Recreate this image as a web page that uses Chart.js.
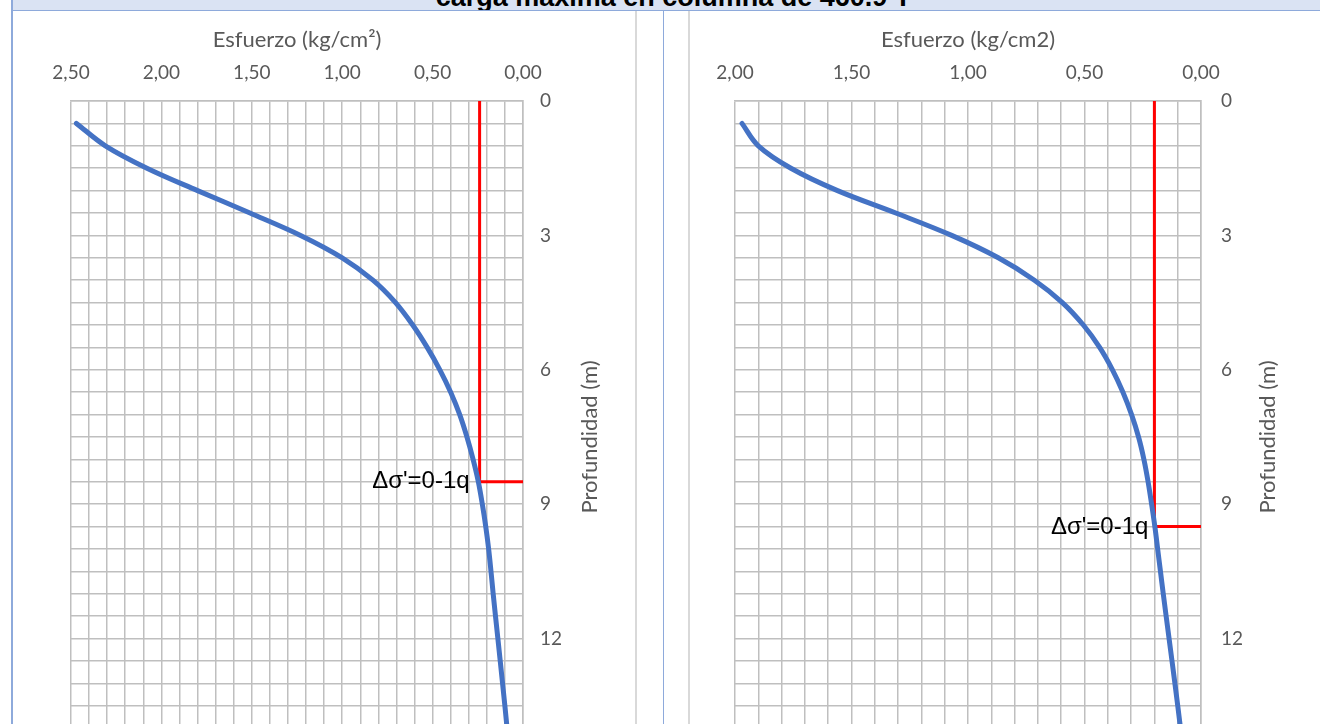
<!DOCTYPE html>
<html>
<head>
<meta charset="utf-8">
<script src="https://cdn.jsdelivr.net/npm/chart.js@4/dist/chart.umd.min.js"></script>
<style>
  html, body { margin: 0; padding: 0; background: #fff; overflow: hidden; width: 1320px; height: 724px; }
  .abs { position: absolute; }
  #band { left: 13px; right: 0; top: 0; height: 10px; background: #dae3f3; overflow: hidden; }
  #band div { position: absolute; left: 0; width: 1321px; top: -19px; text-align: center;
              font: bold 27px 'Liberation Sans', Arial, sans-serif; line-height: 32px; color: #000; white-space: nowrap; }
</style>
</head>
<body>
<div class="abs" id="band"><div>carga máxima en columna de 460.9 T</div></div>
<div class="abs" style="left:13px;right:0;top:10px;height:1px;background:#8eaadb"></div>
<div class="abs" style="left:11px;top:0;width:2px;height:724px;background:#8eaadb"></div>
<div class="abs" style="left:635px;top:11px;width:2px;height:713px;background:#d9d9d9"></div>
<div class="abs" style="left:663px;top:11px;width:1px;height:713px;background:#8eaadb"></div>
<div class="abs" style="left:688px;top:11px;width:2px;height:713px;background:#d9d9d9"></div>
<div class="abs" style="left:13px;top:11px;width:622px;height:800px"><canvas id="c1" width="622" height="800"></canvas></div>
<div class="abs" style="left:690px;top:11px;width:626px;height:800px"><canvas id="c2" width="626" height="800"></canvas></div>

<script>
// Profundidad (m) for each point of the stress curves
const depths = [0.5, 1, 1.5, 2, 2.5, 3, 3.5, 4, 4.5, 5, 5.5, 6, 6.5, 7, 7.5, 8, 8.5, 9, 9.5, 10, 10.5, 11, 12, 13, 14, 15];

// Esfuerzo (kg/cm²) – left diagram
const stressA = [2.47, 2.31, 2.08, 1.80, 1.51, 1.23, 1.00, 0.83, 0.705, 0.61, 0.53, 0.46, 0.40, 0.35, 0.31, 0.276, 0.247, 0.225, 0.206, 0.19, 0.177, 0.165, 0.139, 0.113, 0.088, 0.066];
// Esfuerzo (kg/cm2) – right diagram
const stressB = [1.97, 1.90, 1.76, 1.56, 1.31, 1.07, 0.87, 0.715, 0.595, 0.505, 0.435, 0.38, 0.335, 0.298, 0.268, 0.245, 0.227, 0.212, 0.198, 0.186, 0.174, 0.162, 0.137, 0.112, 0.088, 0.066];

// Δσ' = 0.1q limit lines: stress value and the depth where it is reached
const limitA = { stress: 0.24, depth: 8.5 };
const limitB = { stress: 0.20, depth: 9.5 };

// Axis ranges and labelled ticks
const xMaxA = 2.5, xMaxB = 2.0;
const depthMax = 15;
const depthLabels = [0, 3, 6, 9, 12, 15];
const limitText = "Δσ'=0-1q";

const TICK_COLOR = '#595959';
const GRID_COLOR = '#bfbfbf';
const UI_FONT = "Lato, 'Noto Sans', sans-serif";

const fmt = v => v.toFixed(2).replace('.', ',');

// Label next to the corner of the red limit line
const limitLabel = {
  id: 'limitLabel',
  afterDatasetsDraw(chart, args, opts) {
    const { ctx, scales } = chart;
    const px = scales.x.getPixelForValue(opts.stress);
    const py = scales.y.getPixelForValue(opts.depth);
    ctx.save();
    ctx.font = "24px 'Liberation Sans', Arial, sans-serif";
    ctx.fillStyle = '#000';
    ctx.textAlign = 'right';
    ctx.textBaseline = 'middle';
    ctx.fillText(opts.text, px - opts.gap, py + opts.dy);
    ctx.restore();
  }
};

// Vertical axis title read bottom-to-top on the right side
const depthTitle = {
  id: 'depthTitle',
  afterDraw(chart, args, opts) {
    const { ctx, chartArea } = chart;
    ctx.save();
    ctx.translate(chartArea.right + opts.offset, (chartArea.top + chartArea.bottom) / 2);
    ctx.rotate(-Math.PI / 2);
    ctx.font = '22px ' + UI_FONT;
    ctx.fillStyle = TICK_COLOR;
    ctx.textAlign = 'center';
    ctx.textBaseline = 'middle';
    ctx.fillText(opts.text, 0, 0);
    ctx.restore();
  }
};

function makeChart(id, stress, limit, xMax, xTitle, cfg) {
  const curve = depths.map((d, i) => ({ x: stress[i], y: d }));
  const limitLine = [
    { x: limit.stress, y: 0 },
    { x: limit.stress, y: limit.depth },
    { x: 0, y: limit.depth }
  ];
  return new Chart(document.getElementById(id), {
    type: 'scatter',
    data: {
      datasets: [
        { data: curve, showLine: true, borderColor: '#4472c4', borderWidth: 5, pointRadius: 0,
          tension: 0.35, borderCapStyle: 'round', borderJoinStyle: 'round' },
        { data: limitLine, showLine: true, borderColor: '#ff0000', borderWidth: 3, pointRadius: 0, tension: 0 }
      ]
    },
    options: {
      responsive: false,
      animation: false,
      events: [],
      layout: { padding: { left: cfg.padLeft, right: 0, top: 0, bottom: cfg.padBottom } },
      plugins: {
        legend: { display: false },
        tooltip: { enabled: false },
        limitLabel: { stress: limit.stress, depth: limit.depth, text: limitText, gap: cfg.labelGap, dy: cfg.labelDy },
        depthTitle: { text: 'Profundidad (m)', offset: 67 }
      },
      scales: {
        x: {
          type: 'linear', position: 'top', reverse: true, min: 0, max: xMax,
          afterFit(scale) { scale.height = 90; },
          grid: { color: GRID_COLOR, lineWidth: 1.5, drawTicks: false },
          border: { display: true, color: GRID_COLOR, width: 1.5 },
          ticks: {
            stepSize: 0.1, autoSkip: false, maxRotation: 0, padding: 17,
            color: TICK_COLOR, font: { family: UI_FONT, size: 19 },
            callback: v => (Math.round(v * 10) % 5 === 0 ? fmt(v) : '')
          },
          title: { display: true, text: xTitle, color: TICK_COLOR,
                   font: { family: UI_FONT, size: 22 }, padding: { top: 16, bottom: 0 } }
        },
        y: {
          type: 'linear', position: 'right', reverse: true, min: 0, max: depthMax,
          afterFit(scale) { scale.width = cfg.yWidth; },
          grid: { color: GRID_COLOR, lineWidth: 1.5, drawTicks: false },
          border: { display: true, color: GRID_COLOR, width: 1.5 },
          ticks: {
            stepSize: 0.5, autoSkip: false, padding: cfg.yPad,
            color: TICK_COLOR, font: { family: UI_FONT, size: 19 },
            callback: v => (depthLabels.includes(v) ? String(v) : '')
          }
        }
      }
    },
    plugins: [limitLabel, depthTitle]
  });
}

makeChart('c1', stressA, limitA, xMaxA, 'Esfuerzo (kg/cm²)',
  { padLeft: 58, padBottom: 38, yWidth: 112, yPad: 17, labelGap: 10, labelDy: 0 });
makeChart('c2', stressB, limitB, xMaxB, 'Esfuerzo (kg/cm2)',
  { padLeft: 45, padBottom: 38, yWidth: 115, yPad: 20, labelGap: 6, labelDy: 1 });
</script>
</body>
</html>
